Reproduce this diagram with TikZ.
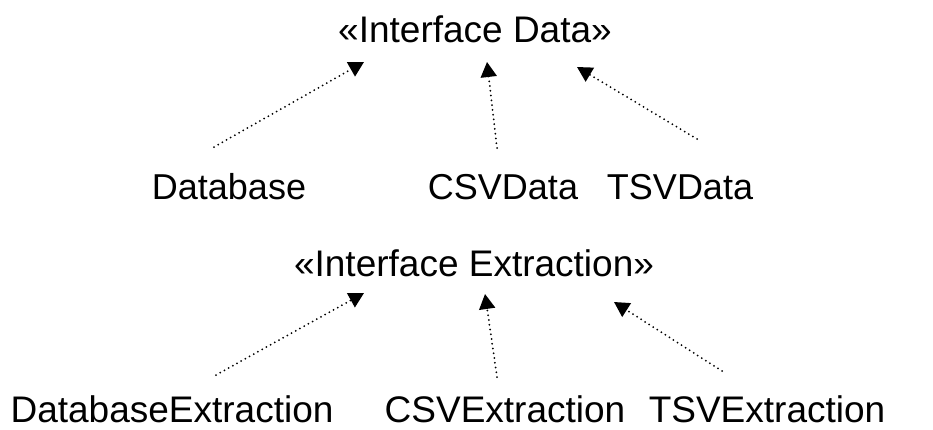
\documentclass[tikz,border=0pt]{standalone}
\usepackage{fontspec}
\setmainfont{Liberation Sans}
\usetikzlibrary{arrows.meta}

\tikzset{
  label/.style={anchor=base, inner sep=0pt, font=\fontsize{37}{40}\selectfont},
  realize/.style={line width=2pt, dash pattern=on 0pt off 4.8pt, line cap=round,
    -{Triangle[length=15pt,width=16pt]}}
}

\begin{document}
\begin{tikzpicture}[x=1pt,y=-1pt]
\useasboundingbox (0,0) rectangle (933,429);

% interfaces
\node[label] (iData) at (475,42) {«Interface Data»};
\node[label] (iExtr) at (474,276) {«Interface Extraction»};

% data classes
\node[label,font=\fontsize{36}{40}\selectfont] (db) at (229,199) {Database};
\node[label,font=\fontsize{36}{40}\selectfont] (csv) at (503,199) {CSVData};
\node[label,font=\fontsize{36}{40}\selectfont] (tsv) at (680,199) {TSVData};

% extraction classes
\node[label] (dbExtr) at (172,422) {DatabaseExtraction};
\node[label] (csvExtr) at (505,422) {CSVExtraction};
\node[label] (tsvExtr) at (767,422) {TSVExtraction};

% arrow ends
\coordinate (dbTail) at (214,147);
\coordinate (dbHead) at (364,62);
\coordinate (csvTail) at (497,148);
\coordinate (csvHead) at (487,62);
\coordinate (tsvTail) at (697,139);
\coordinate (tsvHead) at (577,67);
\coordinate (dbExtrTail) at (216,375);
\coordinate (dbExtrHead) at (364,293);
\coordinate (csvExtrTail) at (497,377);
\coordinate (csvExtrHead) at (485,294);
\coordinate (tsvExtrTail) at (722,371);
\coordinate (tsvExtrHead) at (614,302);

\draw[realize] (dbTail) -- (dbHead);
\draw[realize] (csvTail) -- (csvHead);
\draw[realize] (tsvTail) -- (tsvHead);
\draw[realize] (dbExtrTail) -- (dbExtrHead);
\draw[realize] (csvExtrTail) -- (csvExtrHead);
\draw[realize] (tsvExtrTail) -- (tsvExtrHead);
\end{tikzpicture}
\end{document}
